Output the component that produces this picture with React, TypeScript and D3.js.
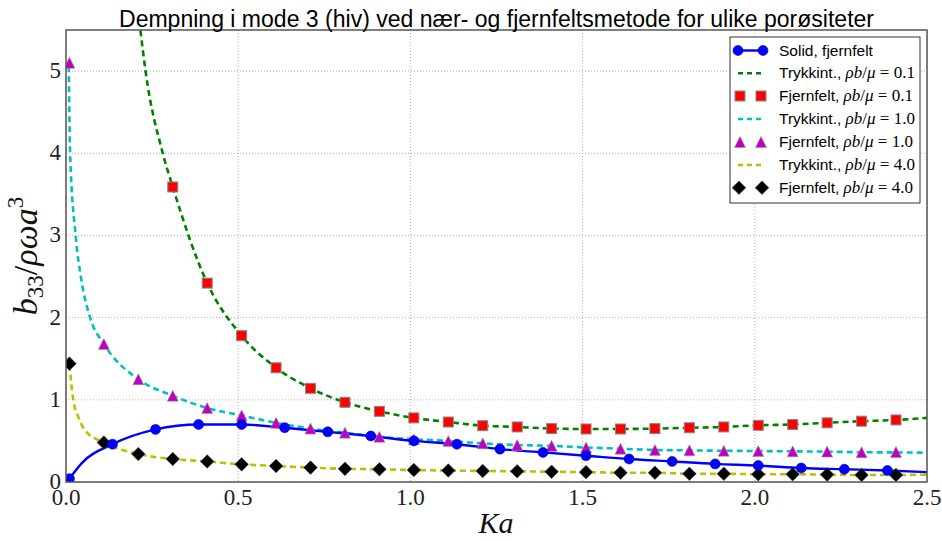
import React from "react";
import * as d3 from "d3";

// ---------- data ----------
const title = "Dempning i mode 3 (hiv) ved nær- og fjernfeltsmetode for ulike porøsiteter";
const xTicks = [0.0, 0.5, 1.0, 1.5, 2.0, 2.5];
const yTicks = [0, 1, 2, 3, 4, 5];

// Solid, fjernfelt (markers)
const solidKa = [0.01, 0.135, 0.26, 0.385, 0.51, 0.635, 0.76, 0.885, 1.01, 1.135, 1.26, 1.385, 1.51, 1.635, 1.76, 1.885, 2.01, 2.135, 2.26, 2.385];
const solidB = [0.04, 0.46, 0.64, 0.7, 0.7, 0.66, 0.61, 0.56, 0.5, 0.46, 0.4, 0.36, 0.32, 0.28, 0.25, 0.22, 0.2, 0.17, 0.155, 0.14];
// Solid line
const solidLineKa = [0.01, 0.046, 0.135, 0.26, 0.385, 0.51, 0.635, 0.76, 0.885, 1.01, 1.135, 1.26, 1.385, 1.51, 1.635, 1.76, 1.885, 2.01, 2.135, 2.26, 2.385, 2.5];
const solidLineB = [0.04, 0.23, 0.46, 0.64, 0.7, 0.7, 0.66, 0.61, 0.56, 0.5, 0.46, 0.4, 0.36, 0.32, 0.28, 0.25, 0.22, 0.2, 0.17, 0.155, 0.14, 0.12];

// porous markers x
const porKa = [0.01, 0.11, 0.21, 0.31, 0.41, 0.51, 0.61, 0.71, 0.81, 0.91, 1.01, 1.11, 1.21, 1.31, 1.41, 1.51, 1.61, 1.71, 1.81, 1.91, 2.01, 2.11, 2.21, 2.31, 2.41];
const sqKa = [0.31, 0.41, 0.51, 0.61, 0.71, 0.81, 0.91, 1.01, 1.11, 1.21, 1.31, 1.41, 1.51, 1.61, 1.71, 1.81, 1.91, 2.01, 2.11, 2.21, 2.31, 2.41];

// rho b / mu = 0.1
const fjern01 = [3.59, 2.42, 1.78, 1.39, 1.14, 0.97, 0.86, 0.78, 0.73, 0.685, 0.67, 0.65, 0.645, 0.645, 0.65, 0.66, 0.67, 0.69, 0.7, 0.72, 0.74, 0.755];
const trykk01Ka = [0.2, 0.216, 0.231, 0.281, 0.31, 0.41, 0.51, 0.61, 0.71, 0.81, 0.91, 1.01, 1.11, 1.21, 1.31, 1.41, 1.51, 1.61, 1.71, 1.81, 1.91, 2.01, 2.11, 2.21, 2.31, 2.41, 2.5];
const trykk01 = [6.1, 5.5, 5.0, 4.0, 3.59, 2.42, 1.78, 1.39, 1.14, 0.97, 0.86, 0.78, 0.73, 0.685, 0.67, 0.65, 0.645, 0.645, 0.65, 0.66, 0.67, 0.69, 0.7, 0.72, 0.74, 0.755, 0.78];

// rho b / mu = 1.0
const fjern10 = [5.1, 1.68, 1.25, 1.05, 0.9, 0.81, 0.72, 0.65, 0.6, 0.55, 0.52, 0.5, 0.47, 0.45, 0.44, 0.42, 0.405, 0.39, 0.385, 0.38, 0.377, 0.373, 0.37, 0.362, 0.365];
const trykk10Ka = [0.008, 0.012, 0.028, 0.045, 0.07, 0.11, 0.21, 0.31, 0.41, 0.51, 0.61, 0.71, 0.81, 0.91, 1.01, 1.11, 1.21, 1.31, 1.41, 1.51, 1.61, 1.71, 1.81, 1.91, 2.01, 2.11, 2.21, 2.31, 2.41, 2.5];
const trykk10 = [5.06, 4.0, 3.0, 2.45, 2.0, 1.68, 1.25, 1.05, 0.9, 0.81, 0.72, 0.65, 0.6, 0.55, 0.52, 0.5, 0.47, 0.45, 0.44, 0.42, 0.405, 0.39, 0.385, 0.38, 0.377, 0.373, 0.37, 0.362, 0.36, 0.357];

// rho b / mu = 4.0
const fjern40 = [1.44, 0.48, 0.34, 0.28, 0.25, 0.215, 0.195, 0.175, 0.16, 0.155, 0.146, 0.14, 0.134, 0.13, 0.125, 0.12, 0.113, 0.113, 0.1, 0.1, 0.094, 0.094, 0.09, 0.085, 0.085];
const trykk40Ka = [0.01, 0.021, 0.036, 0.055, 0.11, 0.21, 0.31, 0.41, 0.51, 0.61, 0.71, 0.81, 0.91, 1.01, 1.11, 1.21, 1.31, 1.41, 1.51, 1.61, 1.71, 1.81, 1.91, 2.01, 2.11, 2.21, 2.31, 2.41, 2.5];
const trykk40 = [1.43, 1.0, 0.79, 0.63, 0.48, 0.34, 0.28, 0.25, 0.215, 0.195, 0.175, 0.16, 0.155, 0.146, 0.14, 0.134, 0.13, 0.125, 0.12, 0.113, 0.113, 0.1, 0.1, 0.094, 0.094, 0.09, 0.085, 0.085, 0.09];

const legendLabels = ["0.1", "0.1", "1.0", "1.0", "4.0", "4.0"];

// ---------- layout ----------
const W = 942, H = 541;
const L = 66, R = 927, T = 30, B = 482;
const x = d3.scaleLinear().domain([0, 2.5]).range([L, R]);
const y = d3.scaleLinear().domain([0, 5.5]).range([B, T]);

const C = {
  blue: "#0000ff", green: "#008000", red: "#ff0000", cyan: "#00bfbf",
  mag: "#bf00bf", yel: "#bfbf00", black: "#000000",
};

const lineGen = d3.line<[number, number]>().x(d => x(d[0])).y(d => y(d[1])).curve(d3.curveMonotoneX);
const zip = (a: number[], b: number[]) => a.map((v, i) => [v, b[i]] as [number, number]);

const serif = "'Liberation Serif', 'DejaVu Serif', serif";
const sans = "'Liberation Sans', Arial, sans-serif";

function Square({ cx, cy }: { cx: number; cy: number }) {
  const s = 10;
  return <rect x={cx - s / 2} y={cy - s / 2} width={s} height={s} fill={C.red} stroke="#888" strokeWidth={1} />;
}
function Tri({ cx, cy }: { cx: number; cy: number }) {
  const r = 5.5;
  return <path d={`M${cx},${cy - r}L${cx + r},${cy + r}L${cx - r},${cy + r}Z`} fill={C.mag} stroke="#999" strokeWidth={0.6} />;
}
function Diamond({ cx, cy }: { cx: number; cy: number }) {
  const r = 6.8;
  return <path d={`M${cx},${cy - r}L${cx + r},${cy}L${cx},${cy + r}L${cx - r},${cy}Z`} fill={C.black} stroke="#444" strokeWidth={0.6} />;
}
function Dot({ cx, cy }: { cx: number; cy: number }) {
  return <circle cx={cx} cy={cy} r={5} fill={C.blue} stroke="#0000aa" strokeWidth={0.6} />;
}

function MathLabel({ val }: { val: string }) {
  return (
    <tspan fontFamily={serif} fontSize={17}>
      <tspan fontStyle="italic">ρb</tspan>
      <tspan>/</tspan>
      <tspan fontStyle="italic">μ</tspan>
      <tspan> = {val}</tspan>
    </tspan>
  );
}

export default function App() {
  const dash = "6,4";
  const lw = 2.6;
  const legX0 = 738, legX1 = 763, legText = 779;
  const legRows = [50.5, 73.3, 96, 119, 142, 165, 187.7];

  return (
    <svg width={W} height={H} style={{ position: "absolute", left: 0, top: 0, background: "#fff" }}>
      <defs>
        <clipPath id="plotclip">
          <rect x={L} y={T} width={R - L} height={B - T} />
        </clipPath>
      </defs>
      <rect x={0} y={0} width={W} height={H} fill="#fff" />

      {/* grid */}
      <g stroke="#b0b0b0" strokeWidth={1} strokeDasharray="1,2">
        {xTicks.map(t => <line key={"gx" + t} x1={x(t)} x2={x(t)} y1={T} y2={B} />)}
        {yTicks.map(t => <line key={"gy" + t} x1={L} x2={R} y1={y(t)} y2={y(t)} />)}
      </g>

      {/* series */}
      <g clipPath="url(#plotclip)">
        <path d={lineGen(zip(trykk01Ka, trykk01)) || ""} fill="none" stroke={C.green} strokeWidth={lw} strokeDasharray={dash} />
        <path d={lineGen(zip(trykk10Ka, trykk10)) || ""} fill="none" stroke={C.cyan} strokeWidth={lw} strokeDasharray={dash} />
        <path d={lineGen(zip(trykk40Ka, trykk40)) || ""} fill="none" stroke={C.yel} strokeWidth={lw} strokeDasharray={dash} />
        <path d={lineGen(zip(solidLineKa, solidLineB)) || ""} fill="none" stroke={C.blue} strokeWidth={2.4} />
        {sqKa.map((k, i) => <Square key={"s" + i} cx={x(k)} cy={y(fjern01[i])} />)}
        {porKa.map((k, i) => <Tri key={"t" + i} cx={x(k)} cy={y(fjern10[i])} />)}
        {porKa.map((k, i) => <Diamond key={"d" + i} cx={x(k)} cy={y(fjern40[i])} />)}
        {solidKa.map((k, i) => <Dot key={"c" + i} cx={x(k)} cy={y(solidB[i])} />)}
      </g>

      {/* frame */}
      <rect x={L} y={T} width={R - L} height={B - T} fill="none" stroke="#555" strokeWidth={1.5} />

      {/* ticks */}
      <g fontFamily={serif} fontSize={23} fill="#222">
        {xTicks.map(t => (
          <text key={"xt" + t} x={x(t)} y={505} textAnchor="middle">{t.toFixed(1)}</text>
        ))}
        {yTicks.map(t => (
          <text key={"yt" + t} x={61} y={y(t) + 7} textAnchor="end">{t}</text>
        ))}
      </g>

      {/* axis labels */}
      <text x={496} y={533} textAnchor="middle" fontFamily={serif} fontStyle="italic" fontSize={30} fill="#111">Ka</text>
      <text transform={`translate(37,${(T + B) / 2}) rotate(-90)`} textAnchor="middle" fontFamily={serif} fontSize={34} fill="#111">
        <tspan fontStyle="italic">b</tspan>
        <tspan fontSize={23} dy={6}>33</tspan>
        <tspan dy={-6}>/</tspan>
        <tspan fontStyle="italic">ρωa</tspan>
        <tspan fontSize={23} dy={-14}>3</tspan>
      </text>

      {/* title */}
      <text x={(L + R) / 2} y={27} textAnchor="middle" fontFamily={sans} fontSize={23} fill="#000" textLength={755} lengthAdjust="spacingAndGlyphs">{title}</text>

      {/* legend */}
      <rect x={730} y={37} width={190} height={166} fill="#fff" stroke="#333" strokeWidth={1} />
      <g>
        <line x1={legX0} x2={legX1} y1={legRows[0]} y2={legRows[0]} stroke={C.blue} strokeWidth={2.4} />
        <Dot cx={legX0} cy={legRows[0]} />
        <Dot cx={legX1} cy={legRows[0]} />
        <line x1={legX0} x2={legX1} y1={legRows[1]} y2={legRows[1]} stroke={C.green} strokeWidth={lw} strokeDasharray="5,4" />
        <Square cx={legX0 + 2} cy={legRows[2]} />
        <Square cx={legX1 - 2} cy={legRows[2]} />
        <line x1={legX0} x2={legX1} y1={legRows[3]} y2={legRows[3]} stroke={C.cyan} strokeWidth={lw} strokeDasharray="5,4" />
        <Tri cx={legX0 + 2} cy={legRows[4]} />
        <Tri cx={legX1 - 2} cy={legRows[4]} />
        <line x1={legX0} x2={legX1} y1={legRows[5]} y2={legRows[5]} stroke={C.yel} strokeWidth={lw} strokeDasharray="5,4" />
        <Diamond cx={legX0 + 1} cy={legRows[6]} />
        <Diamond cx={legX1 - 1} cy={legRows[6]} />
      </g>
      <g fontFamily={sans} fontSize={15.5} fill="#000">
        <text x={legText} y={legRows[0] + 5}>Solid, fjernfelt</text>
        {legendLabels.map((v, i) => (
          <text key={"lg" + i} x={legText} y={legRows[i + 1] + 5}>
            {i % 2 === 0 ? "Trykkint., " : "Fjernfelt, "}
            <MathLabel val={v} />
          </text>
        ))}
      </g>
    </svg>
  );
}
